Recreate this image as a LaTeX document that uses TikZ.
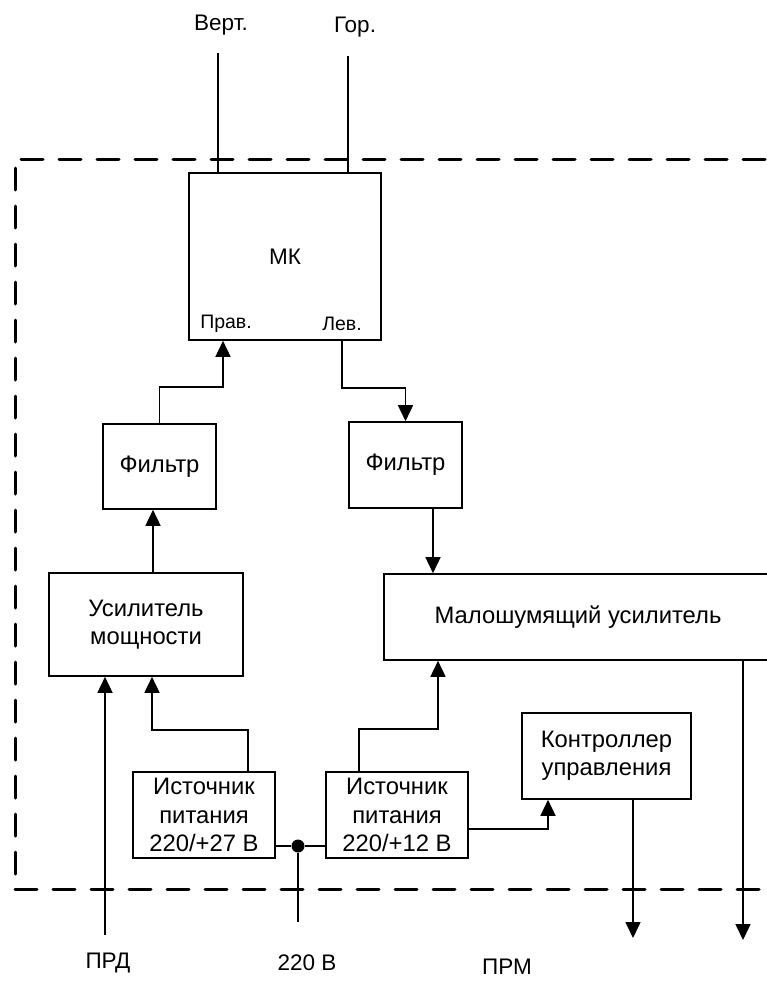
\documentclass[tikz,border=0pt]{standalone}
\usepackage{fontspec}
\setmainfont{Liberation Sans}
\usetikzlibrary{arrows.meta}
\begin{document}
\begin{tikzpicture}[x=1pt,y=-1pt,
  blk/.style={draw,line width=1.6pt,inner sep=0pt,align=center,font=\fontsize{23.8}{28.5}\selectfont},
  wire/.style={line width=1.6pt},
  arr/.style={wire,-{Triangle[length=16pt,width=15pt]}},
  lbl/.style={inner sep=0pt,font=\fontsize{22.5}{26}\selectfont},
  small/.style={inner sep=0pt,font=\fontsize{19.5}{23}\selectfont},
  border/.style={line width=3pt,dash pattern=on 22pt off 16pt,line cap=round}]
\useasboundingbox (0,0) rectangle (767,983);
\fill[white] (0,0) rectangle (767,983);
% dashed enclosure
\draw[border] (21,159) -- (780,159);
\draw[border] (15,168) -- (15,889);
\draw[border] (15,889) -- (780,889);
% blocks
\node[blk,minimum width=192pt,minimum height=167pt,font=\fontsize{22.5}{26}\selectfont] (mk) at (285,256.5) {МК};
\node[small] (prav) at (226,324) {Прав.};
\node[small] (lev) at (342,324) {Лев.};
\node[blk,minimum width=113pt,minimum height=85pt] (filterL) at (159.5,466.5) {Фильтр};
\node[blk,minimum width=113pt,minimum height=86pt] (filterR) at (405.5,465) {Фильтр};
\node[blk,minimum width=194pt,minimum height=103pt] (um) at (146,624.5) {Усилитель\\мощности};
\node[blk,minimum width=388pt,minimum height=86pt] (mshu) at (578,617) {Малошумящий усилитель};
\node[blk,minimum width=142pt,minimum height=86pt] (ip27) at (204,815) {Источник\\питания\\220/+27 В};
\node[blk,minimum width=142pt,minimum height=86pt] (ip12) at (397,815) {Источник\\питания\\220/+12 В};
\node[blk,minimum width=169pt,minimum height=86pt] (ctrl) at (606.5,756) {Контроллер\\управления};
\node[circle,fill,inner sep=0pt,minimum size=13pt] (dot) at (298,846) {};
% outer labels
\node[lbl] (vert) at (221,25) {Верт.};
\node[lbl] (gor) at (355,27) {Гор.};
\node[lbl] (prd) at (108,963) {ПРД};
\node[lbl] (v220) at (307,963) {220 В};
\node[lbl] (prm) at (507,967) {ПРМ};
% free ends
\coordinate (vertEnd) at (218,53);
\coordinate (gorEnd) at (348,56);
\coordinate (prdEnd) at (105,935);
\coordinate (mainsEnd) at (298,922);
\coordinate (ctrlOut) at (633,938);
\coordinate (mshuOut) at (743,940);
% connectors
\draw[wire] (vertEnd) -- (vertEnd |- mk.north);
\draw[wire] (gorEnd) -- (gorEnd |- mk.north);
\draw[arr] (filterL.north) -- ++(0,-36) -| ([xshift=-62pt]mk.south);
\draw[arr] ([xshift=57pt]mk.south) -- ++(0,47) -| (filterR.north);
\draw[arr] ([xshift=7pt]um.north) -- ([xshift=-6.5pt]filterL.south);
\path ([xshift=27.5pt]filterR.south) coordinate (fr1);
\draw[arr] (fr1) -- (fr1 |- mshu.north);
\draw[arr] (prdEnd) -- (prdEnd |- um.south);
\draw[arr] ([xshift=44pt]ip27.north) -- ++(0,-41) -| ([xshift=6pt]um.south);
\draw[arr] ([xshift=-38pt]ip12.north) -- ++(0,-42) -| ([xshift=-140pt]mshu.south);
\draw[wire] (ip27.east |- dot) -- (dot) -- (ip12.west |- dot);
\draw[wire] (dot) -- (mainsEnd);
\draw[arr] ([yshift=-14pt]ip12.east) -| ([xshift=-58.5pt]ctrl.south);
\draw[arr] (ctrlOut |- ctrl.south) -- (ctrlOut);
\draw[arr] (mshuOut |- mshu.south) -- (mshuOut);
\end{tikzpicture}
\end{document}
